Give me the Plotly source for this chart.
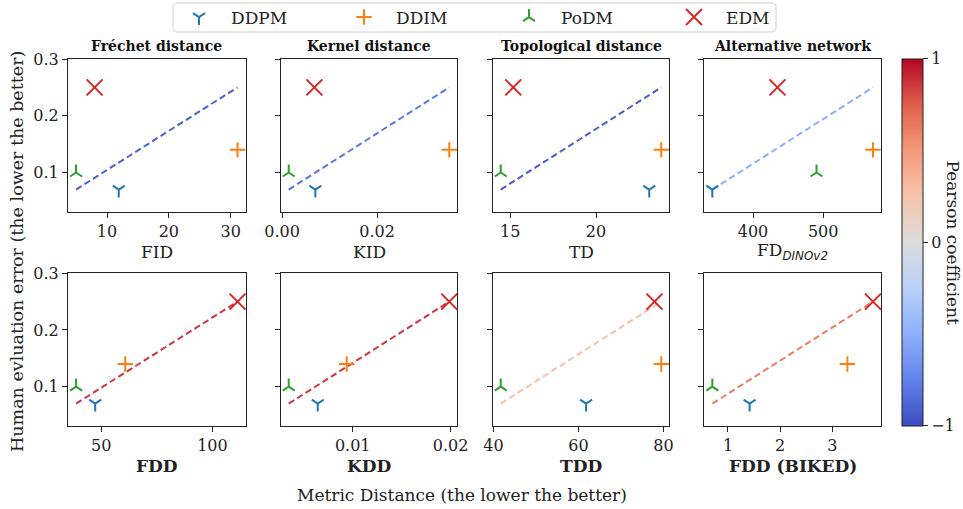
import plotly.graph_objects as go

# ---------------- data ----------------
methods = ["DDPM", "DDIM", "PoDM", "EDM"]
human_error = [0.07, 0.14, 0.10, 0.25]

fid = [11.9, 31.1, 5.0, 8.0]
kid = [0.0070, 0.0352, 0.0014, 0.0068]
td = [23.1, 23.8, 14.45, 15.18]
fd_dinov2 = [342.0, 571.0, 490.5, 434.8]
fdd = [47.3, 60.8, 38.7, 111.3]
kdd = [0.00643, 0.00939, 0.00347, 0.01986]
tdd = [61.8, 79.5, 41.7, 77.9]
fdd_biked = [1.415, 3.29, 0.70, 3.78]

panel_values = [fid, kid, td, fd_dinov2, fdd, kdd, tdd, fdd_biked]
pearson = [-0.9, -0.8, -0.92, -0.5, 0.86, 0.86, 0.26, 0.62]

panel_titles = ["Fréchet distance", "Kernel distance", "Topological distance", "Alternative network"]
x_labels = ["FID", "KID", "TD",
            "FD<sub><span style='font-family:DejaVu Sans'><i>DINOv2</i></span></sub>",
            "<b>FDD</b>", "<b>KDD</b>", "<b>TDD</b>", "<b>FDD (BIKED)</b>"]
x_tickvals = [[10, 20, 30], [0.0, 0.02], [15, 20], [400, 500],
              [50, 100], [0.01, 0.02], [40, 60, 80], [1, 2, 3]]
x_ticktext = [["10", "20", "30"], ["0.00", "0.02"], ["15", "20"], ["400", "500"],
              ["50", "100"], ["0.01", "0.02"], ["40", "60", "80"], ["1", "2", "3"]]
y_tickvals = [0.1, 0.2, 0.3]
y_ticktext = ["0.1", "0.2", "0.3"]
cbar_tickvals = [-1, 0, 1]
cbar_ticktext = ["\u22121", "0", "1"]

# ---------------- styles ----------------
W, H = 963, 509
FAM = "DejaVu Serif"
INK = "#222"
LAB = 17
colors = {"DDPM": "#1f77b4", "DDIM": "#ff7f0e", "PoDM": "#2ca02c", "EDM": "#d62728"}
symbols = {"DDPM": "y-down", "DDIM": "cross-thin", "PoDM": "y-up", "EDM": "x-thin"}
sizes = {"DDPM": 10, "DDIM": 11, "PoDM": 10, "EDM": 16}

cw = [(0.0, (59, 76, 192)), (0.125, (98, 130, 234)), (0.25, (141, 176, 254)),
      (0.375, (184, 208, 249)), (0.5, (221, 220, 220)), (0.625, (245, 196, 172)),
      (0.75, (244, 154, 123)), (0.875, (222, 96, 77)), (1.0, (180, 4, 38))]
colorscale = [[p, "rgb(%d,%d,%d)" % c] for p, c in cw]


def coolwarm(v):
    t = (v + 1) / 2
    for (p0, c0), (p1, c1) in zip(cw[:-1], cw[1:]):
        if p0 <= t <= p1:
            f = (t - p0) / (p1 - p0)
            return "rgb(%d,%d,%d)" % tuple(round(a + (b - a) * f) for a, b in zip(c0, c1))
    return "rgb(%d,%d,%d)" % cw[-1][1]


def serif(labels):
    return ["<span style='font-family:DejaVu Serif'>%s</span>" % s for s in labels]


def px(x, y):
    return x / W, 1 - y / H


col_px = [(68, 245.6), (280.7, 457.3), (492.7, 669.3), (704.3, 881)]
row_px = [(59, 211.7), (273.3, 425.7)]

fig = go.Figure()
layout = {}
annotations = []

for i, xs in enumerate(panel_values):
    r, c = divmod(i, 4)
    ax = "" if i == 0 else str(i + 1)
    xa, ya = "x" + ax, "y" + ax
    # fit line
    fig.add_trace(go.Scatter(
        x=[min(xs), max(xs)], y=[min(human_error), max(human_error)],
        mode="lines", line=dict(color=coolwarm(pearson[i]), width=2, dash="6.5px,3.5px"),
        xaxis=xa, yaxis=ya, showlegend=False, hoverinfo="skip"))
    for k, m in enumerate(methods):
        fig.add_trace(go.Scatter(
            x=[xs[k]], y=[human_error[k]], mode="markers", name=m,
            marker=dict(symbol=symbols[m], size=sizes[m], color=colors[m],
                        line=dict(width=2, color=colors[m])),
            xaxis=xa, yaxis=ya, showlegend=(i == 0), cliponaxis=False))
    lo, hi = min(xs), max(xs)
    span = hi - lo
    x0, x1 = col_px[c]
    y0, y1 = row_px[r]
    layout["xaxis" + ax] = dict(
        domain=[x0 / W, x1 / W], anchor=ya, range=[lo - 0.05 * span, hi + 0.05 * span],
        tickvals=x_tickvals[i], ticktext=serif(x_ticktext[i]), showline=True, mirror=True,
        linecolor=INK, linewidth=1, ticks="outside", ticklen=5, tickcolor=INK,
        showgrid=False, zeroline=False, automargin=False,
        tickfont=dict(family=FAM, size=16, color=INK))
    layout["yaxis" + ax] = dict(
        domain=[1 - y1 / H, 1 - y0 / H], anchor=xa, range=[0.031, 0.3],
        tickvals=y_tickvals, ticktext=serif(y_ticktext), showticklabels=(c == 0),
        showline=True, mirror=True, linecolor=INK, linewidth=1, ticks="outside",
        ticklen=5, tickcolor=INK, showgrid=False, zeroline=False, automargin=False,
        tickfont=dict(family=FAM, size=16, color=INK))
    xc = (x0 + x1) / 2 / W
    if r == 0:
        annotations.append(dict(text="<b>" + panel_titles[c] + "</b>", x=xc, y=1 - 45.5 / H,
                                xref="paper", yref="paper", showarrow=False,
                                font=dict(family=FAM, size=14, color="#111"),
                                xanchor="center", yanchor="middle"))
    ly = 252 if r == 0 else 466
    annotations.append(dict(text=x_labels[i], x=xc, y=1 - ly / H, xref="paper", yref="paper",
                            showarrow=False, font=dict(family=FAM, size=LAB, color=INK),
                            xanchor="center", yanchor="middle"))

# colorbar
fig.add_trace(go.Scatter(
    x=[None], y=[None], mode="markers", showlegend=False, hoverinfo="skip",
    marker=dict(color=[0], cmin=-1, cmax=1, colorscale=colorscale, showscale=True,
                colorbar=dict(x=902.3 / W, xanchor="left", xpad=0, ypad=0,
                              y=1 - 242.35 / H, yanchor="middle",
                              len=366.7, lenmode="pixels", thickness=21, thicknessmode="pixels",
                              outlinewidth=1, outlinecolor=INK,
                              tickvals=cbar_tickvals, ticktext=serif(cbar_ticktext),
                              ticks="outside", ticklen=5, tickcolor=INK,
                              tickfont=dict(family=FAM, size=16, color=INK)))))

annotations.append(dict(text="Pearson coefficient", x=953 / W, y=1 - 242.5 / H,
                        xref="paper", yref="paper", showarrow=False, textangle=90,
                        font=dict(family=FAM, size=LAB, color=INK),
                        xanchor="center", yanchor="middle"))
annotations.append(dict(text="Human evluation error (the lower the better)", x=17 / W,
                        y=1 - 252 / H, xref="paper", yref="paper", showarrow=False,
                        textangle=-90, font=dict(family=FAM, size=17.5, color=INK),
                        xanchor="center", yanchor="middle"))
annotations.append(dict(text="Metric Distance (the lower the better)", x=461.5 / W,
                        y=1 - 494.5 / H, xref="paper", yref="paper", showarrow=False,
                        font=dict(family=FAM, size=LAB, color=INK),
                        xanchor="center", yanchor="middle"))

# rounded legend frame
bx0, by0, bx1, by1, rad = 173, 3, 776, 32, 4


def P(x, y):
    a, b = px(x, y)
    return "%.5f,%.5f" % (a, b)


frame_path = ("M " + P(bx0 + rad, by0) + " L " + P(bx1 - rad, by0) +
              " Q " + P(bx1, by0) + " " + P(bx1, by0 + rad) +
              " L " + P(bx1, by1 - rad) + " Q " + P(bx1, by1) + " " + P(bx1 - rad, by1) +
              " L " + P(bx0 + rad, by1) + " Q " + P(bx0, by1) + " " + P(bx0, by1 - rad) +
              " L " + P(bx0, by0 + rad) + " Q " + P(bx0, by0) + " " + P(bx0 + rad, by0) + " Z")

fig.update_layout(
    width=W, height=H, margin=dict(l=0, r=0, t=0, b=0, autoexpand=False),
    paper_bgcolor="white", plot_bgcolor="white",
    font=dict(family=FAM, size=16, color=INK),
    annotations=annotations,
    shapes=[dict(type="path", path=frame_path, xref="paper", yref="paper",
                 line=dict(color="#d0d0d0", width=1), fillcolor="rgba(255,255,255,0.8)",
                 layer="below")],
    legend=dict(orientation="h", x=167 / W, y=1 + 0.5 / H, xanchor="left", yanchor="top",
                borderwidth=0, bgcolor="rgba(0,0,0,0)", itemwidth=54,
                entrywidth=96, entrywidthmode="pixels",
                font=dict(family=FAM, size=17, color=INK)),
    **layout)

fig.write_html("out.html")
